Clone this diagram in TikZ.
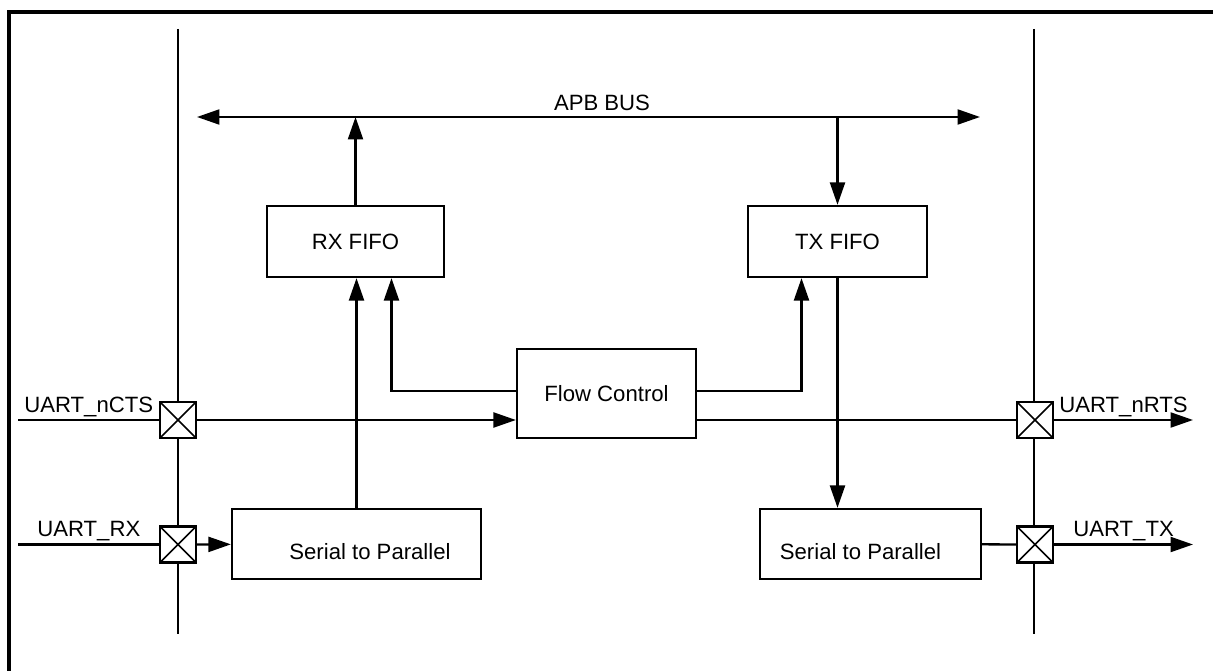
\documentclass[tikz,border=0pt]{standalone}
\usepackage{fontspec}
\setmainfont{Liberation Sans}
\usepackage{tikz}
\usetikzlibrary{arrows.meta,positioning,calc}

\tikzset{
  block/.style={draw,line width=1.3pt,fill=white,inner sep=0pt,font=\fontsize{12.6}{15}\selectfont},
  pad/.style={draw,line width=1.2pt,fill=white,minimum size=0.72cm,inner sep=0pt,
    path picture={\draw[line width=0.9pt] (path picture bounding box.north west)--(path picture bounding box.south east)
      (path picture bounding box.south west)--(path picture bounding box.north east);}},
  sig/.style={inner sep=0pt,font=\fontsize{12.6}{15}\selectfont},
  wire/.style={line width=1.3pt}
}

\begin{document}
\begin{tikzpicture}[x={(0.02cm,0)},y={(0,-0.02cm)},>={Triangle[length=0.45cm,width=0.3cm]}]
\useasboundingbox (0,0) rectangle (1213,671);
% outer frame
\draw[line width=1.8pt] (9,671)--(9,12)--(1213,12);
% pad rails
\draw[line width=1.6pt] (178,29)--(178,634);
\draw[line width=1.6pt] (1034,29)--(1034,634);

% APB bus
\coordinate (apbL) at (197,117);
\coordinate (apbR) at (980,117);
\draw[wire,<->] (apbL)--(apbR);
\node[sig] (apb) at (602,103) {APB BUS};

% blocks
\node[block,minimum width=3.54cm,minimum height=1.42cm] (rxfifo) at (355.5,241.5) {RX FIFO};
\node[block,minimum width=3.58cm,minimum height=1.42cm] (txfifo) at (837.5,241.5) {TX FIFO};
\node[block,minimum width=3.58cm,minimum height=1.78cm] (flow) at (606.5,393.5) {Flow Control};
\node[block,minimum width=4.98cm,minimum height=1.4cm,
  label={[sig,xshift=0.27cm,yshift=-0.16cm]center:Serial to Parallel}] (s2pL) at (356.5,544) {};
\node[block,minimum width=4.42cm,minimum height=1.4cm,
  label={[sig,xshift=-0.2cm,yshift=-0.16cm]center:Serial to Parallel}] (s2pR) at (870.5,544) {};

% pads
\node[pad] (padcts) at (178,420) {};
\node[pad] (padrx) at (178,544.5) {};
\node[pad] (padrts) at (1035,420) {};
\node[pad] (padtx) at (1035,544.5) {};

\coordinate (ctsin) at (18,420);
\coordinate (rxin) at (18,544.5);
\coordinate (rtsout) at (1193,420);
\coordinate (txout) at (1193,544.5);

% pin names
\node[sig,anchor=base west] (lcts) at (24,413) {UART\_nCTS};
\node[sig,anchor=base west] (lrx) at (37,537) {UART\_RX};
\node[sig,anchor=base west] (lrts) at (1059,413) {UART\_nRTS};
\node[sig,anchor=base west] (ltx) at (1073,537) {UART\_TX};

% bus to fifos
\draw[wire,->] (rxfifo.north)--(rxfifo.north |- apbL);
\draw[wire,->] (apbL -| txfifo.north)--(txfifo.north);

% flow control
\draw[wire,->] (flow.west |- 0,391) -| ($(rxfifo.south)+(36,0)$);
\draw[wire,->] (flow.east |- 0,391) -| ($(txfifo.south)+(-36,0)$);
\draw[wire] (ctsin)--(padcts);
\draw[wire,->] (padcts)--(padcts -| flow.west);
\draw[wire] (padcts -| flow.east)--(padrts);
\draw[wire,->] (padrts)--(rtsout);

% receive path
\draw[wire] (rxin)--(padrx);
\draw[wire,->] (padrx)--(s2pL);
\draw[wire,->] (s2pL.north)--(s2pL.north |- rxfifo.south);

% transmit path
\draw[wire,->] (txfifo.south)--(txfifo.south |- s2pR.north);
\draw[wire] (s2pR)--(padtx);
\draw[wire,->] (padtx)--(txout);
\end{tikzpicture}
\end{document}
